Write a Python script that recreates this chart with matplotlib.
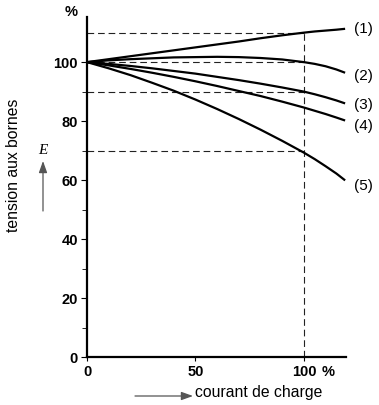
import matplotlib
matplotlib.use("Agg")
from matplotlib import pyplot as plt
from matplotlib.patches import FancyArrowPatch

# load current in % of rated current
courant = [0, 10, 20, 30, 40, 50, 60, 70, 80, 90, 100, 105, 110, 115, 119]

# terminal voltage in % for the five curves
courbe_1 = [100, 101.0, 102.0, 103.0, 104.0, 105.0, 106.0, 107.0, 108.1, 109.1, 110.0, 110.4, 110.7, 111.0, 111.3]
courbe_2 = [100, 100.6, 101.0, 101.3, 101.6, 101.7, 101.8, 101.7, 101.4, 100.9, 100.0, 99.4, 98.6, 97.5, 96.4]
courbe_3 = [100, 99.4, 98.7, 97.9, 97.0, 96.1, 95.0, 93.9, 92.7, 91.4, 90.0, 89.1, 88.1, 87.0, 86.0]
courbe_4 = [100, 98.9, 97.7, 96.4, 95.0, 93.5, 91.9, 90.2, 88.5, 86.6, 84.6, 83.5, 82.4, 81.2, 80.2]
courbe_5 = [100, 97.9, 95.6, 93.0, 90.3, 87.3, 84.1, 80.7, 77.1, 73.3, 69.3, 67.1, 64.7, 62.2, 59.9]

courbes = [courbe_1, courbe_2, courbe_3, courbe_4, courbe_5]
noms = ["(1)", "(2)", "(3)", "(4)", "(5)"]
pos_noms = [111.2, 95.3, 85.4, 78.3, 58.0]

# reference levels marked with dashed lines
niveaux = [110, 100, 90, 70]
courant_nominal = 100

y_ticks = [0, 20, 40, 60, 80, 100]
y_minor = [10, 30, 50, 70, 90]
x_ticks = [0, 50, 100]

plt.rcParams["font.family"] = ["Liberation Sans", "DejaVu Sans"]

fig = plt.figure(figsize=(3.79, 4.05), dpi=100)
ax = fig.add_axes([0.2296, 0.1185, 0.9129 - 0.2296, 0.958 - 0.1185])

for niveau in niveaux:
    ax.plot([0, courant_nominal], [niveau, niveau], color="#222222", lw=0.8, dashes=(6, 3.5))
ax.plot([courant_nominal, courant_nominal], [0, max(niveaux)], color="#222222", lw=0.8, dashes=(6, 3.5))

for courbe in courbes:
    ax.plot(courant, courbe, color="black", lw=1.6, solid_capstyle="butt")

for nom, y in zip(noms, pos_noms):
    ax.text(123, y, nom, fontsize=11, ha="left", va="center", clip_on=False)

ax.set_xlim(0, 119.4)
ax.set_ylim(0, 115.3)

for side in ["top", "right"]:
    ax.spines[side].set_visible(False)
for side in ["left", "bottom"]:
    ax.spines[side].set_linewidth(1.6)

ax.set_yticks(y_ticks)
ax.set_yticks(y_minor, minor=True)
ax.set_xticks(x_ticks)
ax.set_xticklabels(["0", "50", "100"])
ax.tick_params(axis="y", which="major", length=4.5, width=0.8, pad=2, labelsize=10.5)
ax.tick_params(axis="y", which="minor", length=3.5, width=0.6)
ax.tick_params(axis="x", which="major", length=3, width=0.8, pad=3, labelsize=10.5)
for lab in ax.get_xticklabels() + ax.get_yticklabels():
    lab.set_fontweight("bold")

# percent signs
ax.text(111, -0.045, "%", transform=ax.get_xaxis_transform(), fontsize=10.5,
        fontweight="bold", ha="center", va="center", clip_on=False)
fig.text(71.5 / 379, 1 - 12 / 405, "%", fontsize=10.5, fontweight="bold", ha="center", va="center")

# axis titles
fig.text(14 / 379, 1 - 165 / 405, "tension aux bornes", rotation=90, fontsize=11.3,
         ha="center", va="center")
fig.text(259 / 379, 1 - 393 / 405, "courant de charge", fontsize=11.3, ha="center", va="center")

# arrows
fig.text(43 / 379, 1 - 150 / 405, "E", fontsize=11, family="Liberation Serif", style="italic",
         ha="center", va="center")
style = "-|>,head_length=7,head_width=2.5"
fig.patches.append(FancyArrowPatch(
    (43 / 379, 1 - 211 / 405), (43 / 379, 1 - 161 / 405), transform=fig.transFigure,
    arrowstyle=style, color="#555555", lw=0.9, mutation_scale=1, shrinkA=0, shrinkB=0))
fig.patches.append(FancyArrowPatch(
    (135 / 379, 1 - 396 / 405), (193 / 379, 1 - 396 / 405), transform=fig.transFigure,
    arrowstyle=style, color="#555555", lw=0.9, mutation_scale=1, shrinkA=0, shrinkB=0))

plt.savefig("out.png", dpi=100)
